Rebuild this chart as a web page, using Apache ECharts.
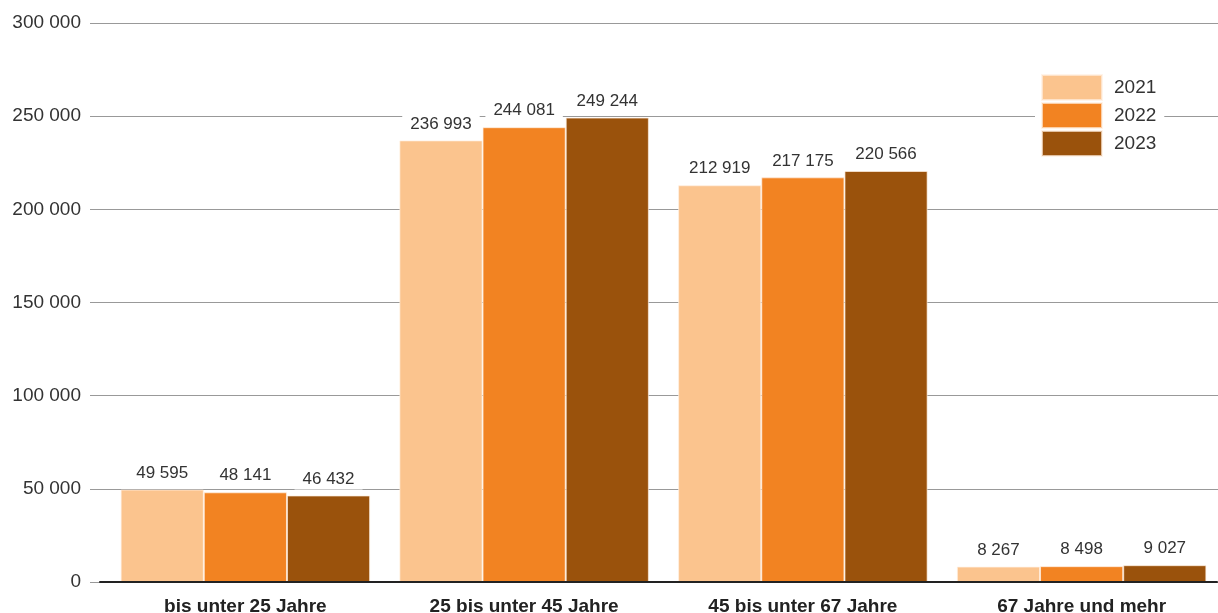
<!DOCTYPE html>
<html><head><meta charset="utf-8">
<script src="https://cdn.jsdelivr.net/npm/echarts@6/dist/echarts.min.js"></script>
<style>html,body{margin:0;padding:0;background:#fff}#c{width:1218px;height:613px}</style>
</head><body><div id="c"></div>
<script>
const categories = ['bis unter 25 Jahre', '25 bis unter 45 Jahre', '45 bis unter 67 Jahre', '67 Jahre und mehr'];
const years = ['2021', '2022', '2023'];
const values2021 = [49595, 236993, 212919, 8267];
const values2022 = [48141, 244081, 217175, 8498];
const values2023 = [46432, 249244, 220566, 9027];
const colors = ['#FBC48E', '#F28322', '#9A520C'];

const fmt = v => String(v).replace(/\B(?=(\d{3})+(?!\d))/g, ' ');
const font = 'Liberation Sans, Arial, sans-serif';
const chart = echarts.init(document.getElementById('c'));
const mk = (name, data, color) => ({
  name, type: 'bar', data, xAxisIndex: 2, yAxisIndex: 2,
  barGap: '0%', barCategoryGap: '10.5%',
  itemStyle: { color, borderColor: 'rgba(255,240,225,0.7)', borderWidth: 1 },
  label: { show: true, position: 'top', distance: 6, formatter: p => fmt(p.value),
    color: '#333', fontSize: 17, fontFamily: font, backgroundColor: '#fff', padding: [2, 8] }
});
const yBase = { type: 'value', min: 0, max: 300000, interval: 50000 };
const gridBase = { top: 23, bottom: 31, containLabel: false, outerBoundsMode: 'none' };
chart.setOption({
  animation: false,
  color: colors,
  grid: [
    Object.assign({ left: 90, right: 0 }, gridBase),
    Object.assign({ left: 100, right: 1 }, gridBase),
    Object.assign({ left: 106, right: -3 }, gridBase)
  ],
  legend: { left: 1035, top: 74, orient: 'vertical', itemWidth: 60, itemHeight: 25, itemGap: 1,
    icon: 'rect', backgroundColor: '#fff', padding: [0, 8, 0, 6],
    textStyle: { fontSize: 19, color: '#333', fontFamily: font, padding: [0, 0, 0, 7] },
    data: years },
  xAxis: [
    { gridIndex: 0, type: 'category', data: categories, show: false },
    { gridIndex: 1, type: 'category', data: categories, z: 5,
      axisLine: { show: true, lineStyle: { color: '#222', width: 2 } }, axisTick: { show: false }, axisLabel: { show: false } },
    { gridIndex: 2, type: 'category', data: categories,
      axisLine: { show: false }, axisTick: { show: false },
      axisLabel: { color: '#222', fontSize: 19, fontWeight: 'bold', fontFamily: font, margin: 15 } }
  ],
  yAxis: [
    Object.assign({ gridIndex: 0,
      axisLine: { show: false }, axisTick: { show: false },
      splitLine: { lineStyle: { color: '#999', width: 1 } },
      axisLabel: { color: '#333', fontSize: 19, fontFamily: font, margin: 9, formatter: v => fmt(v) } }, yBase),
    Object.assign({ gridIndex: 1, show: false, splitLine: { show: false } }, yBase),
    Object.assign({ gridIndex: 2, show: false, splitLine: { show: false } }, yBase)
  ],
  series: [mk(years[0], values2021, colors[0]), mk(years[1], values2022, colors[1]), mk(years[2], values2023, colors[2])]
});
</script></body></html>
